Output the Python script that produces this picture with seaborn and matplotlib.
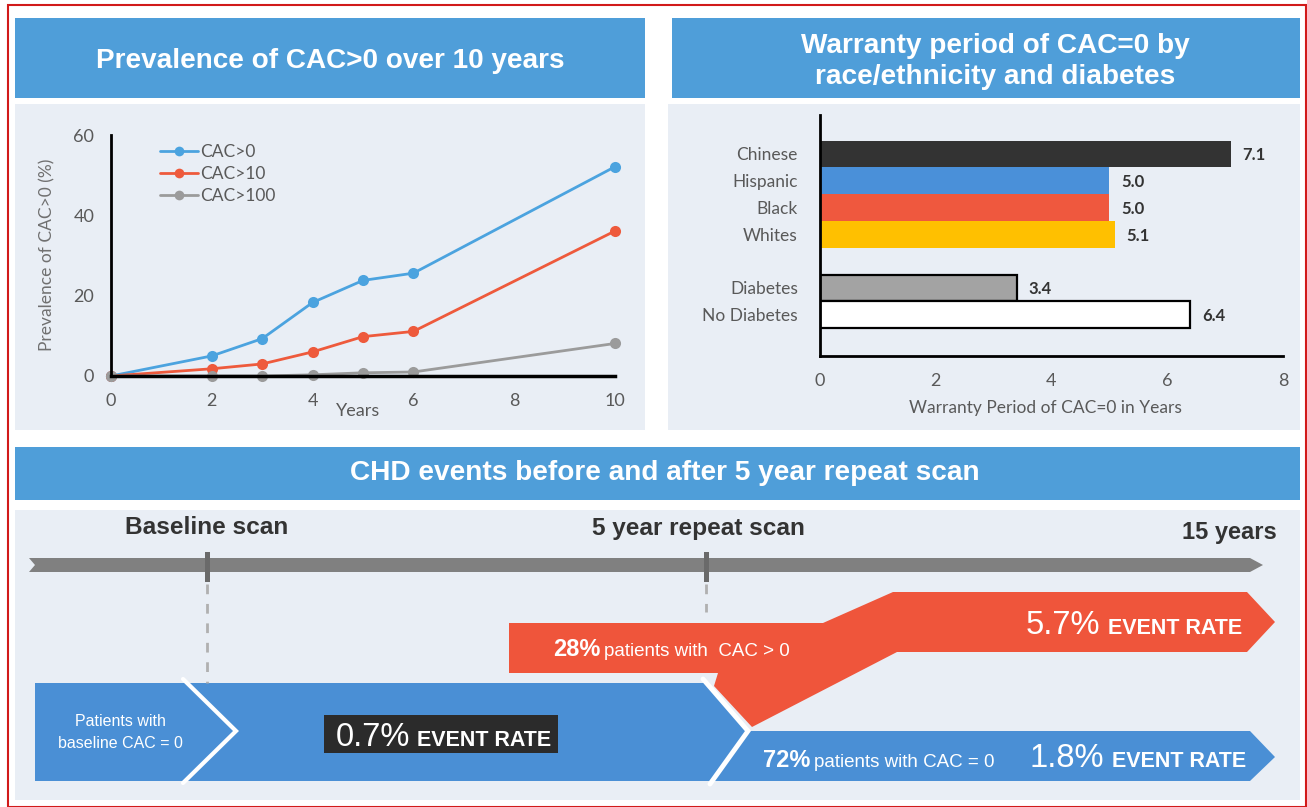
import numpy as np
import pandas as pd
import matplotlib
matplotlib.use("Agg")
import matplotlib.pyplot as plt
import seaborn as sns
from matplotlib.patches import Rectangle, Polygon
from matplotlib.lines import Line2D

# ---------------- data ----------------
years = [0, 2, 3, 4, 5, 6, 10]
cac_gt0 = [0, 5.0, 9.3, 18.3, 23.8, 25.6, 52.1]
cac_gt10 = [0, 1.8, 3.0, 6.0, 9.8, 11.1, 36.1]
cac_gt100 = [0, 0, 0, 0.3, 0.8, 1.0, 8.1]
series_names = ["CAC>0", "CAC>10", "CAC>100"]
line_xticks = [0, 2, 4, 6, 8, 10]
line_yticks = [0, 20, 40, 60]

groups = ["Chinese", "Hispanic", "Black", "Whites", "Diabetes", "No Diabetes"]
warranty_years = [7.1, 5.0, 5.0, 5.1, 3.4, 6.4]
bar_order = ["Chinese", "Hispanic", "Black", "Whites", " ", "Diabetes", "No Diabetes"]
bar_xticks = [0, 2, 4, 6, 8]

title_left = "Prevalence of CAC>0 over 10 years"
title_right = ["Warranty period of CAC=0 by", "race/ethnicity and diabetes"]
title_bottom = "CHD events before and after 5 year repeat scan"

# ---------------- style ----------------
W, H = 1307, 807
sns.set_style("white")
plt.rcParams["font.family"] = ["Lato", "DejaVu Sans"]
DIAG = ["Liberation Sans", "DejaVu Sans"]

PANEL = "#e9eef5"
HEAD = "#4f9ed9"
BLUE = "#4a8fd5"
RED = "#ef553b"
GREY_TXT = "#595959"

line_colors = {"CAC>0": "#4ba3df", "CAC>10": "#ee5a3c", "CAC>100": "#9b9b9b"}
bar_colors = {"Chinese": "#333333", "Hispanic": "#4a90d9", "Black": "#ef583e",
              "Whites": "#ffc000", "Diabetes": "#a3a3a3", "No Diabetes": "#ffffff"}

fig = plt.figure(figsize=(W / 100, H / 100), dpi=100)
fig.patch.set_facecolor("white")
renderer = fig.canvas.get_renderer()

bg = fig.add_axes([0, 0, 1, 1], zorder=0)
bg.set_xlim(0, W)
bg.set_ylim(H, 0)
bg.axis("off")


def frect(x0, y0, x1, y1):
    return [x0 / W, 1 - y1 / H, (x1 - x0) / W, (y1 - y0) / H]


def fit_text(x, y, s, width, **kw):
    t = bg.text(x, y, s, fontsize=10, **kw)
    w = t.get_window_extent(renderer).width
    t.set_fontsize(10 * width / w)
    return t


def chain(x, y, parts, color="white"):
    cur = x
    for s, size, weight, gap in parts:
        cur += gap
        t = bg.text(cur, y, s, fontsize=size, fontweight=weight, color=color,
                    ha="left", va="baseline", family=DIAG)
        cur += t.get_window_extent(renderer).width
    return cur


# outer red frame
bg.add_patch(Rectangle((8, 5), W - 9.5, H - 5.5, fc="none", ec="#d11a1a", lw=1.5))

# panels and headers
for (x0, y0, x1, y1) in [(15, 104, 645, 430), (668, 104, 1300, 430), (15, 510, 1300, 800)]:
    bg.add_patch(Rectangle((x0, y0), x1 - x0, y1 - y0, fc=PANEL, ec="none"))
for (x0, y0, x1, y1) in [(15, 18, 645, 98), (672, 18, 1300, 98), (15, 447, 1300, 500)]:
    bg.add_patch(Rectangle((x0, y0), x1 - x0, y1 - y0, fc=HEAD, ec="none"))

fit_text(330, 61, title_left, 468, color="white", fontweight="bold",
         ha="center", va="center", family=DIAG)
t1 = fit_text(995, 46, title_right[0], 390, color="white", fontweight="bold",
              ha="center", va="center", family=DIAG)
bg.text(995, 77, title_right[1], fontsize=t1.get_fontsize(), color="white",
        fontweight="bold", ha="center", va="center", family=DIAG)
fit_text(665, 473, title_bottom, 630, color="white", fontweight="bold",
         ha="center", va="center", family=DIAG)

# ---------------- bottom timeline diagram ----------------
fit_text(207, 528, "Baseline scan", 163, color="#333333", fontweight="bold",
         ha="center", va="center", family=DIAG)
fit_text(698, 528, "5 year repeat scan", 213, color="#333333", fontweight="bold",
         ha="center", va="center", family=DIAG)
fit_text(1277, 533, "15 years", 95, color="#333333", fontweight="bold",
         ha="right", va="center", family=DIAG)

bg.add_patch(Polygon([(29, 558), (1250, 558), (1263, 565), (1250, 572), (29, 572), (35, 565)],
                     closed=True, fc="#808080", ec="none"))
for xt, yend in [(207, 683), (706, 612)]:
    bg.add_patch(Rectangle((xt - 2.5, 552), 5, 30, fc="#6a6a6a", ec="none"))
    bg.plot([xt, xt], [584, yend], color="#b0b0b0", lw=2, ls=(0, (3.5, 3.5)))

bg.add_patch(Polygon([(35, 683), (705, 683), (748, 731), (1250, 731), (1275, 757),
                      (1250, 781), (35, 781)], closed=True, fc=BLUE, ec="none"))
bg.add_patch(Polygon([(509, 623), (823, 623), (893, 592), (1247, 592), (1275, 622),
                      (1247, 652), (897, 652), (752, 727), (714, 686), (718, 673),
                      (509, 673)], closed=True, fc=RED, ec="none"))
bg.plot([183, 236, 183], [679, 731, 783], color="white", lw=3, solid_joinstyle="miter")
bg.plot([703, 748, 710], [679, 731, 784], color="white", lw=3.5, solid_joinstyle="miter")

bg.text(120, 722, "Patients with", color="white", fontsize=11.5, ha="center",
        va="center", family=DIAG)
bg.text(120, 744, "baseline CAC = 0", color="white", fontsize=11.5, ha="center",
        va="center", family=DIAG)

bg.add_patch(Rectangle((324, 715), 234, 38, fc="#2b2b2b", ec="none"))
chain(336, 746, [("0.7%", 23.5, "normal", 0), ("EVENT RATE", 15.5, "bold", 7)])
chain(553, 656, [("28%", 17, "bold", 0), ("patients with  CAC > 0", 13.5, "normal", 4)])
chain(1026, 634, [("5.7%", 23.5, "normal", 0), ("EVENT RATE", 15.5, "bold", 7)])
chain(763, 767, [("72%", 17, "bold", 0), ("patients with CAC = 0", 13.5, "normal", 4)])
chain(1030, 767, [("1.8%", 23.5, "normal", 0), ("EVENT RATE", 15.5, "bold", 7)])

# ---------------- line chart ----------------
axl = fig.add_axes(frect(111, 135, 615, 376), zorder=2)
axl.set_facecolor("none")
df = pd.DataFrame({
    "Years": years * 3,
    "value": cac_gt0 + cac_gt10 + cac_gt100,
    "series": np.repeat(series_names, len(years)),
})
sns.lineplot(data=df, x="Years", y="value", hue="series", hue_order=series_names,
             palette=line_colors, marker="o", markersize=8, markeredgewidth=0,
             linewidth=2, legend=False, ax=axl)
for ln in axl.lines:
    ln.set_clip_on(False)
axl.set_xlim(0, 10)
axl.set_ylim(0, 60)
axl.set_xticks(line_xticks)
axl.set_yticks(line_yticks)
for s in ["top", "right"]:
    axl.spines[s].set_visible(False)
axl.spines["left"].set_color("black")
axl.spines["left"].set_linewidth(2)
axl.spines["bottom"].set_color("black")
axl.spines["bottom"].set_linewidth(2.5)
axl.tick_params(axis="x", direction="out", length=4, width=1.5, color="black",
                pad=8, labelsize=13, labelcolor=GREY_TXT)
axl.tick_params(axis="y", length=0, pad=12, labelsize=13, labelcolor=GREY_TXT)
axl.set_xlabel("Years", fontsize=13, color=GREY_TXT)
axl.xaxis.set_label_coords((358 - 111) / 504, -(403 - 376) / 241)
axl.set_ylabel("Prevalence of CAC>0 (%)", fontsize=12.5, color="#707070", va="center")
axl.yaxis.set_label_coords(-(111 - 47) / 504, (376 - 255) / 241)
handles = [Line2D([], [], color=line_colors[n], marker="o", markersize=7, lw=2,
                  markeredgewidth=0) for n in series_names]
axl.legend(handles, series_names, loc="upper left",
           bbox_to_anchor=((160 - 111) / 504, (376 - 144) / 241), frameon=False,
           borderpad=0, borderaxespad=0, handlelength=2.2, handletextpad=0.1,
           labelspacing=0.35, fontsize=12.5, labelcolor=GREY_TXT, numpoints=1)

# ---------------- bar chart ----------------
axb = fig.add_axes(frect(820, 115, 1283, 356), zorder=2)
axb.set_facecolor("none")
sns.barplot(x=warranty_years, y=groups, order=bar_order, hue=groups, hue_order=groups,
            palette=bar_colors, width=1.0, saturation=1, legend=False, orient="h", ax=axb)
for p in axb.patches:
    yc = p.get_y() + p.get_height() / 2
    idx = int(round(yc))
    if 0 <= idx < len(bar_order) and bar_order[idx] in ("Diabetes", "No Diabetes"):
        p.set_edgecolor("black")
        p.set_linewidth(1.6)
    else:
        p.set_edgecolor("none")
for g, v in zip(groups, warranty_years):
    axb.text(v + 0.2, bar_order.index(g) + 0.05, f"{v:.1f}", va="center", ha="left",
             fontsize=12, fontweight="bold", color="#333333")
axb.set_xlim(0, 8)
axb.set_ylim(7.54, -1.455)
axb.set_xticks(bar_xticks)
for s in ["top", "right"]:
    axb.spines[s].set_visible(False)
axb.spines["left"].set_color("black")
axb.spines["left"].set_linewidth(2)
axb.spines["bottom"].set_color("black")
axb.spines["bottom"].set_linewidth(2)
axb.tick_params(axis="x", direction="out", length=4, width=1.5, color="black",
                pad=8, labelsize=13, labelcolor=GREY_TXT)
axb.tick_params(axis="y", length=0, pad=16, labelsize=12.5, labelcolor=GREY_TXT)
axb.set_ylabel("")
axb.set_xlabel("Warranty Period of CAC=0 in Years", fontsize=12.5, color=GREY_TXT)
axb.xaxis.set_label_coords((1045 - 820) / 463, -(400 - 356) / 241)

fig.savefig("out.png", dpi=100, facecolor="white")
